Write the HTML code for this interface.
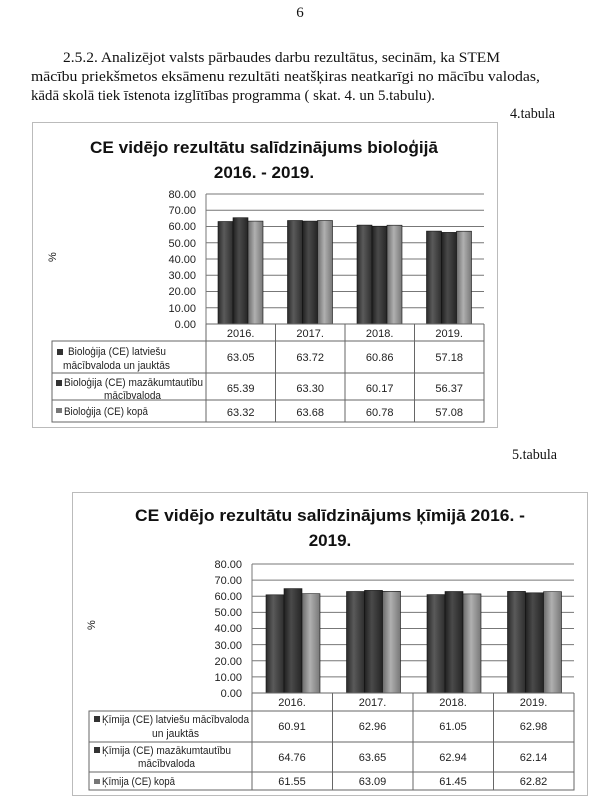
<!DOCTYPE html>
<html><head><meta charset="utf-8"><style>
html,body{margin:0;padding:0;background:#fff;}
svg{display:block;}
.p{font-family:"Liberation Serif",serif;font-size:15px;fill:#111;}
.t{font-family:"Liberation Sans",sans-serif;font-weight:bold;font-size:17px;fill:#111;}
.a{font-family:"Liberation Sans",sans-serif;font-size:11px;fill:#222;}
</style></head><body>
<svg width="600" height="808" viewBox="0 0 600 808" xmlns="http://www.w3.org/2000/svg">
<defs>
<linearGradient id="d" x1="0" x2="1" y1="0" y2="0"><stop offset="0" stop-color="#2a2a2a"/><stop offset="0.4" stop-color="#5a5a5a"/><stop offset="1" stop-color="#2e2e2e"/></linearGradient>
<linearGradient id="d2" x1="0" x2="1" y1="0" y2="0"><stop offset="0" stop-color="#202020"/><stop offset="0.4" stop-color="#4a4a4a"/><stop offset="1" stop-color="#252525"/></linearGradient>
<linearGradient id="l" x1="0" x2="1" y1="0" y2="0"><stop offset="0" stop-color="#6a6a6a"/><stop offset="0.45" stop-color="#b0b0b0"/><stop offset="1" stop-color="#777"/></linearGradient>
</defs>
<rect width="600" height="808" fill="#fff"/>
<text class="p" x="300" y="17" text-anchor="middle">6</text>
<text class="p" x="63" y="62" textLength="437" lengthAdjust="spacingAndGlyphs">2.5.2. Analizējot valsts pārbaudes darbu rezultātus, secinām, ka STEM</text>
<text class="p" x="31" y="81" textLength="509" lengthAdjust="spacingAndGlyphs">mācību priekšmetos eksāmenu rezultāti neatšķiras neatkarīgi no mācību valodas,</text>
<text class="p" x="31" y="100" textLength="404" lengthAdjust="spacingAndGlyphs">kādā skolā tiek īstenota izglītības programma ( skat. 4. un 5.tabulu).</text>
<text class="p" x="510" y="118" font-size="12" textLength="45" lengthAdjust="spacingAndGlyphs">4.tabula</text>
<text class="p" x="512" y="459" font-size="12" textLength="45" lengthAdjust="spacingAndGlyphs">5.tabula</text>

<!-- Chart 1 -->
<rect x="32.5" y="122.5" width="465" height="305" fill="#fff" stroke="#bbb"/>
<text class="t" x="264" y="153" text-anchor="middle" textLength="348" lengthAdjust="spacingAndGlyphs">CE vidējo rezultātu salīdzinājums bioloģijā</text>
<text class="t" x="264" y="178" text-anchor="middle">2016. - 2019.</text>
<text class="a" x="53" y="265" font-size="9" transform="rotate(-90 53 262)">%</text>
<g stroke="#777" stroke-width="1">
<line x1="206" y1="194" x2="484" y2="194"/><line x1="206" y1="210.25" x2="484" y2="210.25"/><line x1="206" y1="226.5" x2="484" y2="226.5"/><line x1="206" y1="242.75" x2="484" y2="242.75"/><line x1="206" y1="259" x2="484" y2="259"/><line x1="206" y1="275.25" x2="484" y2="275.25"/><line x1="206" y1="291.5" x2="484" y2="291.5"/><line x1="206" y1="307.75" x2="484" y2="307.75"/>
<line x1="206" y1="194" x2="206" y2="324"/>
</g>
<g class="a" text-anchor="end">
<text x="196" y="198">80.00</text><text x="196" y="214">70.00</text><text x="196" y="230">60.00</text><text x="196" y="247">50.00</text><text x="196" y="263">40.00</text><text x="196" y="279">30.00</text><text x="196" y="295">20.00</text><text x="196" y="312">10.00</text><text x="196" y="328">0.00</text>
</g>
<g stroke="#111" stroke-width="0.6">
<rect x="218" y="221.5" width="15" height="102.5" fill="url(#d)"/><rect x="233" y="217.7" width="15" height="106.3" fill="url(#d2)"/><rect x="248" y="221.1" width="15" height="102.9" fill="url(#l)"/>
<rect x="287.5" y="220.5" width="15" height="103.5" fill="url(#d)"/><rect x="302.5" y="221.1" width="15" height="102.9" fill="url(#d2)"/><rect x="317.5" y="220.5" width="15" height="103.5" fill="url(#l)"/>
<rect x="357" y="225.1" width="15" height="98.9" fill="url(#d)"/><rect x="372" y="226.2" width="15" height="97.8" fill="url(#d2)"/><rect x="387" y="225.2" width="15" height="98.8" fill="url(#l)"/>
<rect x="426.5" y="231.1" width="15" height="92.9" fill="url(#d)"/><rect x="441.5" y="232.4" width="15" height="91.6" fill="url(#d2)"/><rect x="456.5" y="231.2" width="15" height="92.8" fill="url(#l)"/>
</g>
<g stroke="#666" stroke-width="1" fill="none">
<line x1="206" y1="324" x2="484" y2="324"/>
<rect x="52" y="341" width="432" height="81"/>
<line x1="52" y1="373" x2="484" y2="373"/><line x1="52" y1="400" x2="484" y2="400"/>
<line x1="206" y1="324" x2="206" y2="422"/><line x1="275.5" y1="324" x2="275.5" y2="422"/><line x1="345" y1="324" x2="345" y2="422"/><line x1="414.5" y1="324" x2="414.5" y2="422"/><line x1="484" y1="324" x2="484" y2="422"/>
</g>
<g class="a" text-anchor="middle">
<text x="240.7" y="337">2016.</text><text x="310.2" y="337">2017.</text><text x="379.7" y="337">2018.</text><text x="449.2" y="337">2019.</text>
<text x="240.7" y="361">63.05</text><text x="310.2" y="361">63.72</text><text x="379.7" y="361">60.86</text><text x="449.2" y="361">57.18</text>
<text x="240.7" y="392">65.39</text><text x="310.2" y="392">63.30</text><text x="379.7" y="392">60.17</text><text x="449.2" y="392">56.37</text>
<text x="240.7" y="416">63.32</text><text x="310.2" y="416">63.68</text><text x="379.7" y="416">60.78</text><text x="449.2" y="416">57.08</text>
</g>
<g class="a">
<rect x="57" y="349" width="6" height="6" fill="#333"/><text x="68" y="355" textLength="98" lengthAdjust="spacingAndGlyphs">Bioloģija (CE) latviešu</text><text x="63" y="369" textLength="107" lengthAdjust="spacingAndGlyphs">mācībvaloda un jaukt&#257;s</text>
<rect x="56" y="380" width="6" height="6" fill="#333"/><text x="64" y="386" textLength="139" lengthAdjust="spacingAndGlyphs">Bioloģija (CE) mazākumtautību</text><text x="104" y="399" textLength="57" lengthAdjust="spacingAndGlyphs">mācībvaloda</text>
<rect x="56" y="408" width="6" height="5" fill="#777"/><text x="64" y="415" textLength="84" lengthAdjust="spacingAndGlyphs">Bioloģija (CE) kopā</text>
</g>

<!-- Chart 2 -->
<rect x="72.5" y="492.5" width="515" height="303" fill="#fff" stroke="#bbb"/>
<text class="t" x="330" y="521" text-anchor="middle" textLength="390" lengthAdjust="spacingAndGlyphs">CE vidējo rezultātu salīdzinājums ķīmijā 2016. -</text>
<text class="t" x="330" y="546" text-anchor="middle">2019.</text>
<text class="a" x="92" y="633" font-size="9" transform="rotate(-90 92 630)">%</text>
<g stroke="#777" stroke-width="1">
<line x1="252" y1="564" x2="574" y2="564"/><line x1="252" y1="580.1" x2="574" y2="580.1"/><line x1="252" y1="596.25" x2="574" y2="596.25"/><line x1="252" y1="612.4" x2="574" y2="612.4"/><line x1="252" y1="628.5" x2="574" y2="628.5"/><line x1="252" y1="644.6" x2="574" y2="644.6"/><line x1="252" y1="660.75" x2="574" y2="660.75"/><line x1="252" y1="676.9" x2="574" y2="676.9"/>
<line x1="252" y1="564" x2="252" y2="693"/>
</g>
<g class="a" text-anchor="end">
<text x="242" y="568">80.00</text><text x="242" y="584">70.00</text><text x="242" y="600">60.00</text><text x="242" y="616">50.00</text><text x="242" y="632">40.00</text><text x="242" y="649">30.00</text><text x="242" y="665">20.00</text><text x="242" y="681">10.00</text><text x="242" y="697">0.00</text>
</g>
<g stroke="#111" stroke-width="0.6">
<rect x="266" y="594.8" width="18" height="98.2" fill="url(#d)"/><rect x="284" y="588.6" width="18" height="104.4" fill="url(#d2)"/><rect x="302" y="593.7" width="18" height="99.3" fill="url(#l)"/>
<rect x="346.5" y="591.5" width="18" height="101.5" fill="url(#d)"/><rect x="364.5" y="590.4" width="18" height="102.6" fill="url(#d2)"/><rect x="382.5" y="591.3" width="18" height="101.7" fill="url(#l)"/>
<rect x="427" y="594.6" width="18" height="98.4" fill="url(#d)"/><rect x="445" y="591.5" width="18" height="101.5" fill="url(#d2)"/><rect x="463" y="593.9" width="18" height="99.1" fill="url(#l)"/>
<rect x="507.5" y="591.4" width="18" height="101.6" fill="url(#d)"/><rect x="525.5" y="592.8" width="18" height="100.2" fill="url(#d2)"/><rect x="543.5" y="591.7" width="18" height="101.3" fill="url(#l)"/>
</g>
<g stroke="#666" stroke-width="1" fill="none">
<line x1="252" y1="693" x2="574" y2="693"/>
<rect x="89" y="711" width="485" height="79"/>
<line x1="89" y1="742" x2="574" y2="742"/><line x1="89" y1="772" x2="574" y2="772"/>
<line x1="252" y1="693" x2="252" y2="790"/><line x1="332.5" y1="693" x2="332.5" y2="790"/><line x1="413" y1="693" x2="413" y2="790"/><line x1="493.5" y1="693" x2="493.5" y2="790"/><line x1="574" y1="693" x2="574" y2="790"/>
</g>
<g class="a" text-anchor="middle">
<text x="292" y="706">2016.</text><text x="372.5" y="706">2017.</text><text x="453" y="706">2018.</text><text x="533.5" y="706">2019.</text>
<text x="292" y="730">60.91</text><text x="372.5" y="730">62.96</text><text x="453" y="730">61.05</text><text x="533.5" y="730">62.98</text>
<text x="292" y="761">64.76</text><text x="372.5" y="761">63.65</text><text x="453" y="761">62.94</text><text x="533.5" y="761">62.14</text>
<text x="292" y="785">61.55</text><text x="372.5" y="785">63.09</text><text x="453" y="785">61.45</text><text x="533.5" y="785">62.82</text>
</g>
<g class="a">
<rect x="94" y="716" width="6" height="6" fill="#333"/><text x="102" y="723" textLength="147" lengthAdjust="spacingAndGlyphs">Ķīmija (CE) latviešu mācībvaloda</text><text x="152" y="737" textLength="47" lengthAdjust="spacingAndGlyphs">un jaukt&#257;s</text>
<rect x="94" y="747" width="6" height="6" fill="#333"/><text x="102" y="754" textLength="129" lengthAdjust="spacingAndGlyphs">Ķīmija (CE) mazākumtautību</text><text x="138" y="767" textLength="57" lengthAdjust="spacingAndGlyphs">mācībvaloda</text>
<rect x="94" y="779" width="6" height="5" fill="#777"/><text x="102" y="785" textLength="73" lengthAdjust="spacingAndGlyphs">Ķīmija (CE) kopā</text>
</g>
</svg>
</body></html>
